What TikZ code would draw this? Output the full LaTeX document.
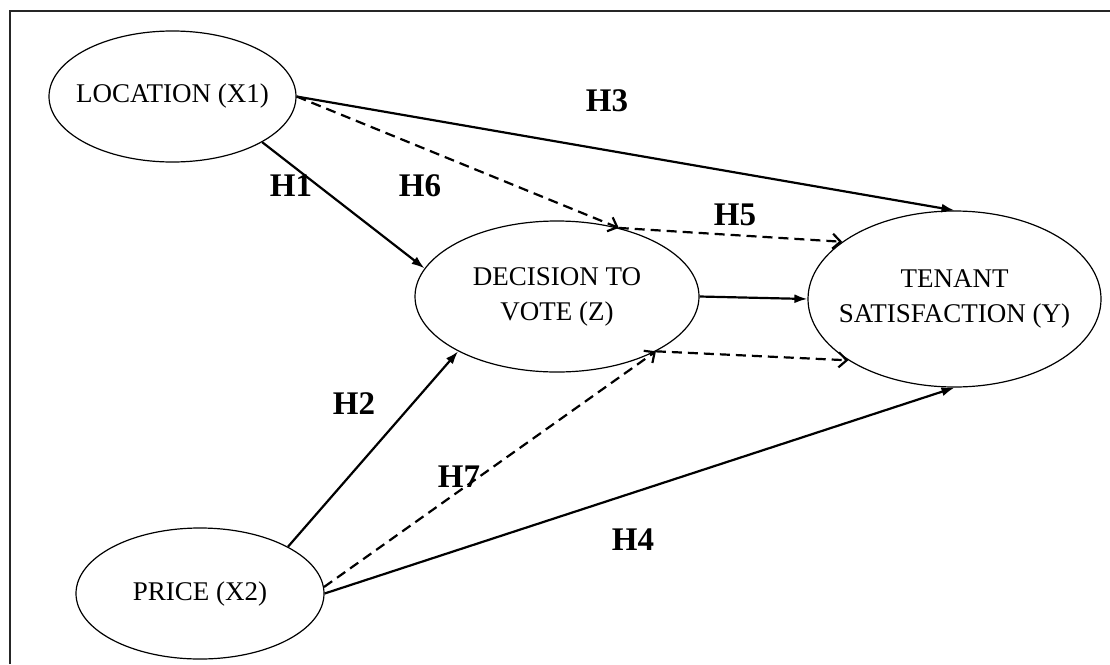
\documentclass[tikz,border=0pt]{standalone}
\usepackage{fontspec}
\setmainfont{Liberation Serif}
\usetikzlibrary{shapes.geometric,arrows.meta}

\tikzset{
  var/.style={ellipse, draw, line width=1.2pt, inner sep=0pt},
  vartext/.style={align=center, font=\fontsize{27}{35}\selectfont},
  hyp/.style={font=\fontsize{33}{36}\selectfont\bfseries},
  direct/.style={line width=2.2pt, -{Latex[length=13pt,width=9pt]}},
  indirect/.style={line width=2.2pt, dash pattern=on 10pt off 6pt,
    -{Straight Barb[length=8pt,width=15pt]}}
}

\begin{document}
\begin{tikzpicture}[x=1pt,y=-1pt]
\useasboundingbox (0,0) rectangle (1110,664);
\draw[line width=1.5pt, black!85] (10,664) -- (10,11) -- (1110,11);
% variables
\node[var, minimum width=247pt, minimum height=131pt] (loc) at (172.5,96.5){};
\node[vartext] (loctext) at (loc){LOCATION (X1)};
\node[var, minimum width=248pt, minimum height=131pt] (price) at (200,593.5){};
\node[vartext] (pricetext) at (price){PRICE (X2)};
\node[var, minimum width=284pt, minimum height=151pt] (dec) at (557,296.5){};
\node[vartext] (dectext) at (dec){DECISION TO\\VOTE (Z)};
\node[var, minimum width=293pt, minimum height=176pt] (ten) at (954.5,299){};
\node[vartext] (tentext) at (ten){TENANT\\SATISFACTION (Y)};
% direct paths
\draw[direct](loc.east) -- (ten.north);
\draw[direct](loc.-27) -- (dec.168);
\draw[direct](price.28) -- (dec.209);
\draw[direct](price.east) -- (ten.south);
\draw[direct](dec.east) -- (ten.west);
% mediated paths
\draw[indirect](loc.east) -- (dec.48);
\draw[indirect](dec.48) -- (ten.153);
\draw[indirect](price.3) -- (dec.-29);
\draw[indirect](dec.-29) -- (ten.210);
% hypotheses
\node[hyp] (h1) at (291,186){H1};
\node[hyp] (h2) at (354,404){H2};
\node[hyp] (h3) at (607,101){H3};
\node[hyp] (h4) at (633,540){H4};
\node[hyp] (h5) at (735,215){H5};
\node[hyp] (h6) at (420,186){H6};
\node[hyp] (h7) at (459,477){H7};
\end{tikzpicture}
\end{document}
